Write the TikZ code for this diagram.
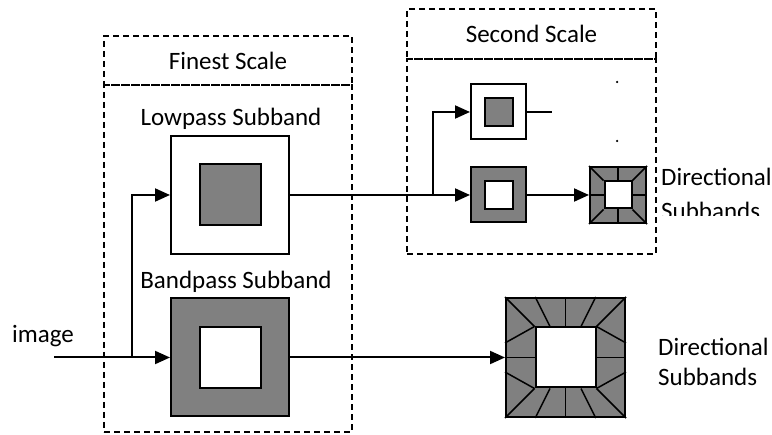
\documentclass[tikz,border=0pt]{standalone}
\usepackage{fontspec}
\setmainfont{Carlito}
\usetikzlibrary{arrows.meta,calc}
\definecolor{bandgray}{RGB}{128,128,128}
\tikzset{
  lbl/.style={inner sep=0pt,font=\fontsize{25}{30}\selectfont},
  scalebox/.style={draw,line width=1.5pt,dash pattern=on 6pt off 4pt,inner sep=0pt,font=\fontsize{25}{30}\selectfont},
  sq/.style={draw,line width=2pt,inner sep=0pt,minimum size=#1},
  wedge/.style={line width=1.5pt},
  conn/.style={line width=2pt},
  flow/.style={line width=2pt,-{Triangle[length=15pt,width=13pt]}},
  dot/.style={circle,fill,inner sep=0pt,minimum size=2.5pt}
}
\begin{document}
\begin{tikzpicture}[x=1pt,y=-1pt]
    \useasboundingbox (0,0) rectangle (772,435);

    \node[scalebox,minimum width=248pt,minimum height=49pt] (fhead) at (228,60.5) {Finest Scale};
    \node[scalebox,minimum width=248pt,minimum height=347pt] (fbody) at (228,258.5) {};
    \node[scalebox,minimum width=249pt,minimum height=50pt] (shead) at (531.5,34) {Second Scale};
    \node[scalebox,minimum width=249pt,minimum height=195pt] (sbody) at (531.5,156.5) {};

    \node[lbl,anchor=base] (lowtxt) at (231,126) {Lowpass Subband};
    \node[sq=118pt,fill=white] (low1) at (230,195) {};
    \node[sq=61pt,fill=bandgray] (low1in) at (230,195) {};
    \node[lbl,anchor=base] (bandtxt) at (236,289) {Bandpass Subband};
    \node[sq=118pt,fill=bandgray] (band1) at (230,357.5) {};
    \node[sq=61pt,fill=white] (band1in) at (230,357.5) {};

    \node[sq=55pt,fill=white] (low2) at (498.5,112) {};
    \node[sq=28pt,fill=bandgray] (low2in) at (498.5,112) {};
    \node[sq=55pt,fill=bandgray] (band2) at (498.5,195) {};
    \node[sq=28pt,fill=white] (band2in) at (498.5,195) {};
    \node[sq=56pt,fill=bandgray] (dir2) at (618,195) {};
    \node[sq=27pt,fill=white] (dir2in) at (618,195) {};
    \foreach \a in {north west,north,north east,east,south east,south,south west,west}
        \draw[wedge] (dir2.\a) -- (dir2in.\a);
    \node[dot] (dot1) at (617,82) {};
    \node[dot] (dot2) at (617,141) {};
    \node[lbl,anchor=base west] (dirtxt2) at (661,186) {Directional};
    \begin{scope}
        \clip (656,190) rectangle (772,216);
        \node[lbl,anchor=base west] (subtxt2) at (661,220) {Subbands};
    \end{scope}

    \node[sq=119pt,fill=bandgray] (dir1) at (565.5,357.5) {};
    \node[sq=60pt,fill=white] (dir1in) at (565.5,357.5) {};
    \foreach \a in {north west,north,north east,east,south east,south,south west,west}
        \draw[wedge] (dir1.\a) -- (dir1in.\a);
    \foreach \t in {0.25,0.75} {
        \draw[wedge] ($(dir1.north west)!\t!(dir1.north east)$) -- ($(dir1in.north west)!\t!(dir1in.north east)$);
        \draw[wedge] ($(dir1.south west)!\t!(dir1.south east)$) -- ($(dir1in.south west)!\t!(dir1in.south east)$);
    }
    \draw[wedge] ($(dir1.north west)!0.38!(dir1.south west)$) -- (dir1in.north west);
    \draw[wedge] ($(dir1.north west)!0.62!(dir1.south west)$) -- (dir1in.south west);
    \draw[wedge] ($(dir1.north east)!0.38!(dir1.south east)$) -- (dir1in.north east);
    \draw[wedge] ($(dir1.north east)!0.62!(dir1.south east)$) -- (dir1in.south east);
    \node[lbl,anchor=base west] (dirtxt1) at (658,356) {Directional};
    \node[lbl,anchor=base west] (subtxt1) at (658,386) {Subbands};

    \node[lbl,anchor=base] (imgtxt) at (43,343) {image};
    \coordinate (imgin) at (54,357.5);
    \coordinate (split1) at (132,357.5);
    \coordinate (split2) at (433,195);
    \coordinate (low2out) at (552,112);

    \draw[flow] (imgin) -- (band1.west);
    \draw[flow] (split1) |- (low1.west);
    \draw[flow] (low1.east) -- (band2.west);
    \draw[flow] (split2) |- (low2.west);
    \draw[conn] (low2.east) -- (low2out);
    \draw[flow] (band2.east) -- (dir2.west);
    \draw[flow] (band1.east) -- (dir1.west);
\end{tikzpicture}
\end{document}
